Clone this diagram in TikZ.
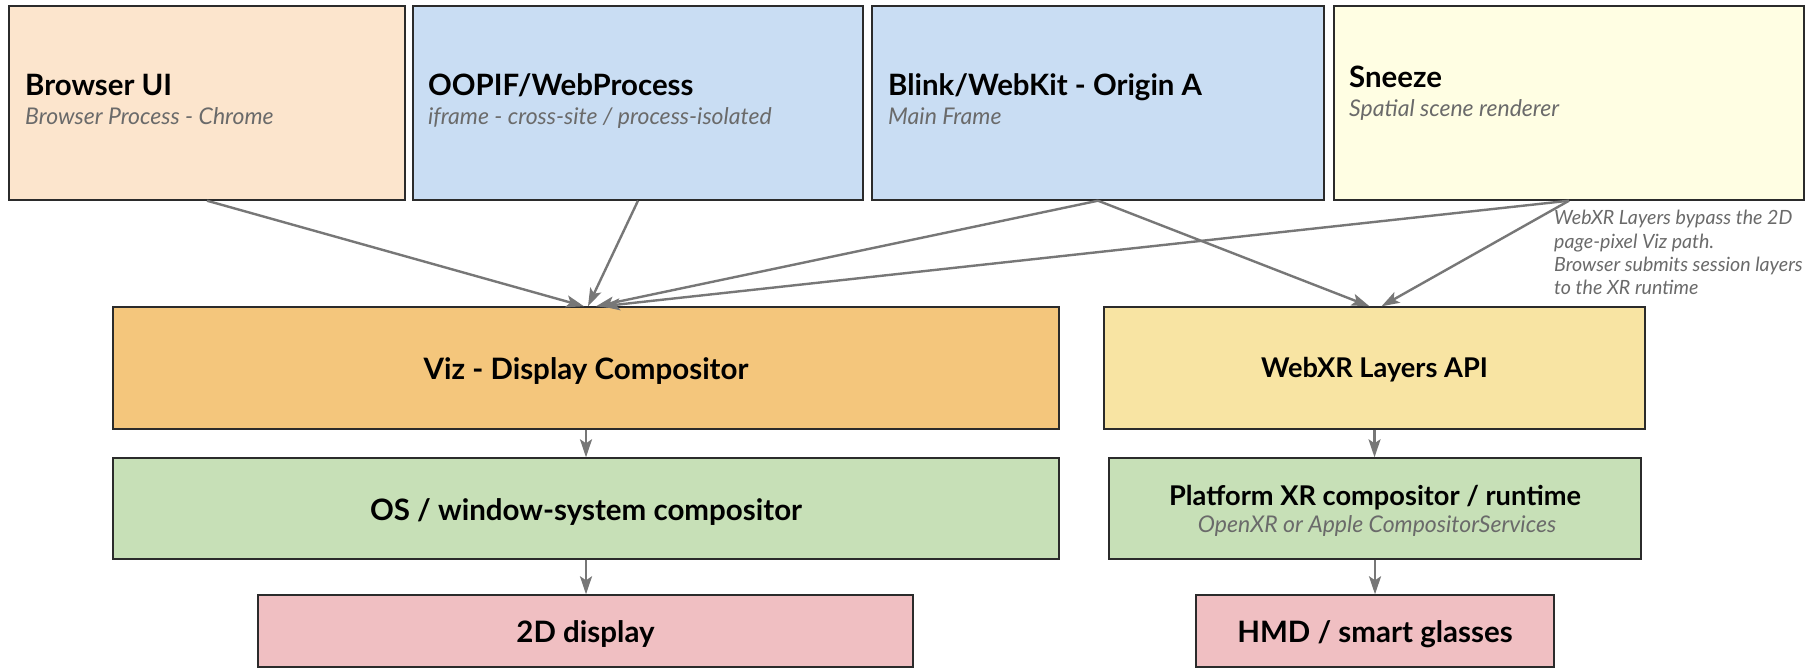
\documentclass[tikz,border=0pt]{standalone}
\usepackage{fontspec}
\setmainfont{Lato}
\usetikzlibrary{arrows.meta}
\definecolor{cpeach}{HTML}{FCE5CD}
\definecolor{cblue}{HTML}{C9DDF3}
\definecolor{ccream}{HTML}{FFFEE3}
\definecolor{corange}{HTML}{F4C67C}
\definecolor{capi}{HTML}{F8E4A3}
\definecolor{cgreen}{HTML}{C7E0B7}
\definecolor{cpink}{HTML}{F0BFC2}
\definecolor{cborder}{HTML}{2B2B2B}
\definecolor{carrow}{HTML}{777777}
\definecolor{csub}{HTML}{6A6A6A}
\begin{document}
\begin{tikzpicture}[x=1pt,y=-1pt,
  box/.style={draw=cborder, line width=1.4pt, inner sep=0pt, anchor=center},
  arr/.style={draw=carrow, line width=2.4pt, -{Stealth[length=18pt,width=12pt,inset=4pt]}},
  ttl/.style={font=\bfseries\fontsize{29.4}{32}\selectfont, anchor=base west, inner sep=0pt},
  sub/.style={font=\itshape\fontsize{23}{26}\selectfont, text=csub, anchor=base west, inner sep=0pt},
  ctl/.style={font=\bfseries\fontsize{29.5}{32}\selectfont, anchor=base, inner sep=0pt},
  ctr/.style={font=\bfseries\fontsize{27.2}{30}\selectfont, anchor=base, inner sep=0pt},
  csb/.style={font=\itshape\fontsize{23}{26}\selectfont, text=csub, anchor=base, inner sep=0pt},
  note/.style={font=\itshape\fontsize{19.6}{23.4}\selectfont, text=csub, align=left, anchor=north west, inner sep=0pt}
]
\useasboundingbox (0,0) rectangle (1819,668);
\fill[white] (0,0) rectangle (1819,668);

% top row
\node[box, fill=cpeach, minimum width=396pt, minimum height=194pt] (bui) at (207,103) {};
\node[box, fill=cblue, minimum width=450pt, minimum height=194pt] (oop) at (638,103) {};
\node[box, fill=cblue, minimum width=452pt, minimum height=194pt] (blk) at (1098,103) {};
\node[box, fill=ccream, minimum width=470pt, minimum height=194pt] (snz) at (1569,103) {};

\node[ttl] (bui-t) at (25,96) {Browser UI};
\node[sub] (bui-s) at (25,125) {Browser Process - Chrome};
\node[ttl] (oop-t) at (428,96) {OOPIF/WebProcess};
\node[sub] (oop-s) at (428,125) {iframe - cross-site / process-isolated};
\node[ttl] (blk-t) at (888,96) {Blink/WebKit - Origin A};
\node[sub] (blk-s) at (888,125) {Main Frame};
\node[ttl] (snz-t) at (1349,88) {Sneeze};
\node[sub] (snz-s) at (1349,117) {Spatial scene renderer};

% middle
\node[box, fill=corange, minimum width=946pt, minimum height=122pt] (viz) at (586,368) {};
\node[box, fill=capi, minimum width=541pt, minimum height=122pt] (wxl) at (1374.5,368) {};
\node[ctl] (viz-t) at (586,379) {Viz - Display Compositor};
\node[ctr] (wxl-t) at (1374.5,377) {WebXR Layers API};

\node[box, fill=cgreen, minimum width=946pt, minimum height=101pt] (os) at (586,508.5) {};
\node[box, fill=cgreen, minimum width=532pt, minimum height=101pt] (pxr) at (1375,508.5) {};
\node[ctl] (os-t) at (586,520) {OS / window-system compositor};
\node[ctr] (pxr-t) at (1375,505) {Platform XR compositor / runtime};
\node[csb] (pxr-s) at (1377,532) {OpenXR or Apple CompositorServices};

\node[box, fill=cpink, minimum width=655pt, minimum height=72pt] (d2) at (585.5,631) {};
\node[box, fill=cpink, minimum width=358pt, minimum height=72pt] (hmd) at (1375,631) {};
\node[ctl] (d2-t) at (585.5,642) {2D display};
\node[ctl] (hmd-t) at (1375,642) {HMD / smart glasses};

% note
\node[note] (nt) at (1554,210) {WebXR Layers bypass the 2D\\page-pixel Viz path.\\Browser submits session layers\\to the XR runtime};

% connectors
\draw[arr] (bui.south) -- ([xshift=-2pt]viz.north);
\draw[arr] (oop.south) -- ([xshift=2pt]viz.north);
\draw[arr] (blk.south) -- ([xshift=10pt]viz.north);
\draw[arr] (snz.south) -- ([xshift=16pt]viz.north);
\draw[arr] (blk.south) -- ([xshift=-5pt]wxl.north);
\draw[arr] (snz.south) -- ([xshift=7pt]wxl.north);
\draw[arr] (viz.south) -- (os.north);
\draw[arr] (wxl.south) -- (wxl.south |- pxr.north);
\draw[arr] (os.south) -- (os.south |- d2.north);
\draw[arr] (pxr.south) -- (hmd.north);
\end{tikzpicture}
\end{document}
